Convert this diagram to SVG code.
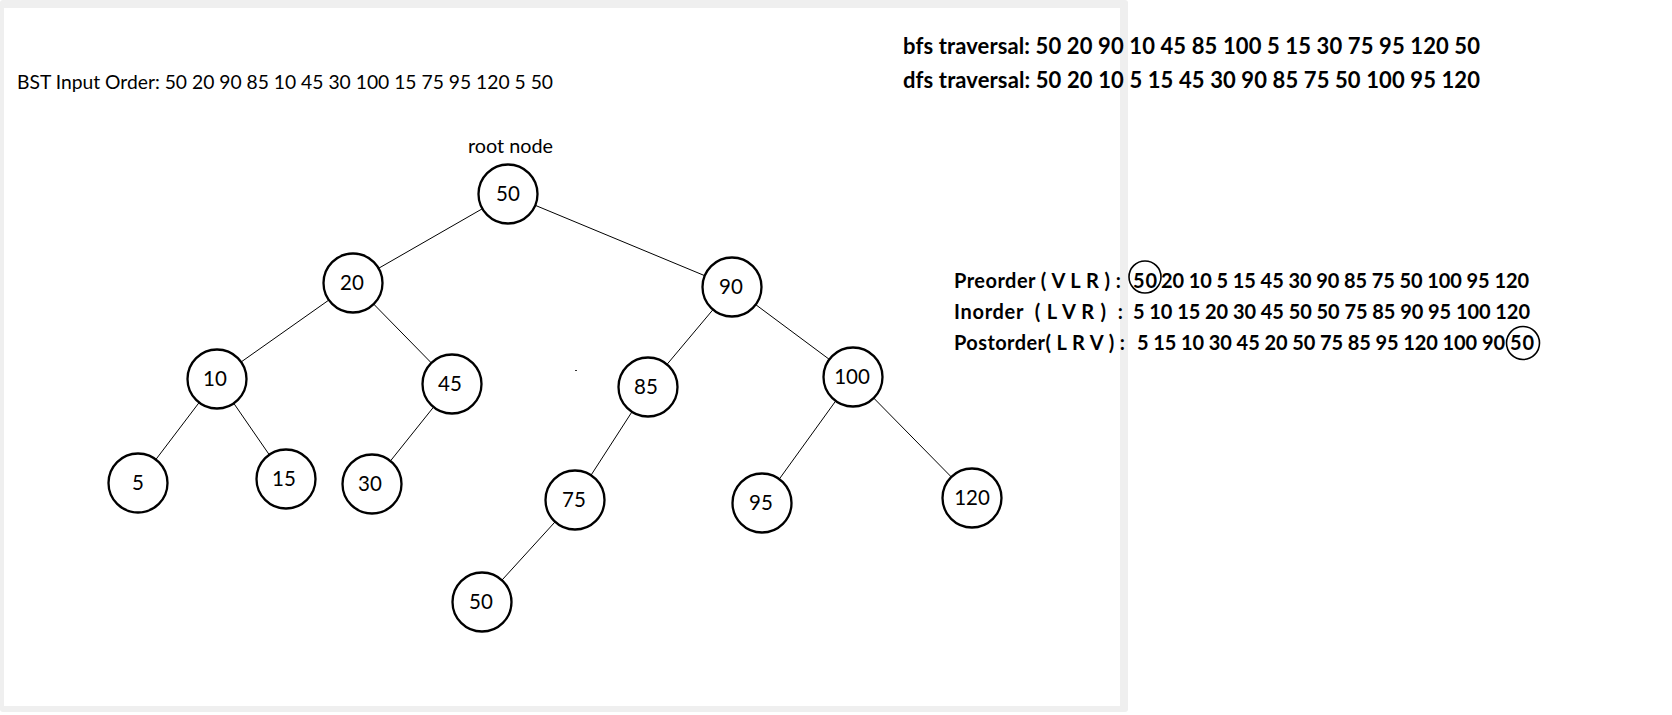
<svg xmlns="http://www.w3.org/2000/svg" width="1672" height="715" viewBox="0 0 1672 715">
<defs>
<style>
.node circle{fill:#fff;stroke:#000;stroke-width:2.3}
.node text{font-family:Lato,"Open Sans",sans-serif;font-size:20.5px;fill:#000;text-anchor:middle}
.edges line{stroke:#000;stroke-width:1}
.plain{font-family:Lato,"Open Sans",sans-serif;font-size:18.5px;fill:#000}
.bold{font-family:Lato,"Open Sans",sans-serif;font-weight:bold;fill:#000}
.ring{fill:none;stroke:#000;stroke-width:1.6}
</style>
</defs>
<rect x="0" y="0" width="1672" height="715" fill="#fff"/>
<rect x="0" y="0" width="1128" height="712" rx="3" fill="#efefef"/>
<rect x="4" y="8" width="1116" height="698" fill="#fff"/>

<text class="plain" x="17" y="89" textLength="536" lengthAdjust="spacingAndGlyphs">BST Input Order: 50 20 90 85 10 45 30 100 15 75 95 120 5 50</text>
<text class="plain" x="468" y="153" textLength="85" lengthAdjust="spacingAndGlyphs">root node</text>

<g class="edges">
<line x1="508" y1="194" x2="353" y2="283"/>
<line x1="508" y1="194" x2="732" y2="287"/>
<line x1="353" y1="283" x2="217" y2="379"/>
<line x1="353" y1="283" x2="452" y2="384"/>
<line x1="217" y1="379" x2="138" y2="483"/>
<line x1="217" y1="379" x2="286" y2="479"/>
<line x1="452" y1="384" x2="372" y2="484"/>
<line x1="732" y1="287" x2="648" y2="387"/>
<line x1="732" y1="287" x2="853" y2="377"/>
<line x1="648" y1="387" x2="575" y2="500"/>
<line x1="575" y1="500" x2="482" y2="602"/>
<line x1="853" y1="377" x2="762" y2="503"/>
<line x1="853" y1="377" x2="972" y2="498"/>
</g>

<g id="n50" class="node"><circle cx="508" cy="194" r="29.5"/><text x="508" y="201">50</text></g>
<g id="n20" class="node"><circle cx="353" cy="283" r="29.5"/><text x="352" y="290">20</text></g>
<g id="n90" class="node"><circle cx="732" cy="287" r="29.5"/><text x="731" y="294">90</text></g>
<g id="n10" class="node"><circle cx="217" cy="379" r="29.5"/><text x="215" y="386">10</text></g>
<g id="n45" class="node"><circle cx="452" cy="384" r="29.5"/><text x="450" y="391">45</text></g>
<g id="n85" class="node"><circle cx="648" cy="387" r="29.5"/><text x="646" y="394">85</text></g>
<g id="n100" class="node"><circle cx="853" cy="377" r="29.5"/><text x="852" y="384">100</text></g>
<g id="n5" class="node"><circle cx="138" cy="483" r="29.5"/><text x="138" y="490">5</text></g>
<g id="n15" class="node"><circle cx="286" cy="479" r="29.5"/><text x="284" y="486">15</text></g>
<g id="n30" class="node"><circle cx="372" cy="484" r="29.5"/><text x="370" y="491">30</text></g>
<g id="n75" class="node"><circle cx="575" cy="500" r="29.5"/><text x="574" y="507">75</text></g>
<g id="n95" class="node"><circle cx="762" cy="503" r="29.5"/><text x="761" y="510">95</text></g>
<g id="n120" class="node"><circle cx="972" cy="498" r="29.5"/><text x="972" y="505">120</text></g>
<g id="n50b" class="node"><circle cx="482" cy="602" r="29.5"/><text x="481" y="609">50</text></g>

<rect x="575" y="370" width="2" height="1" fill="#333"/>

<text class="bold" x="903" y="54" font-size="22" textLength="577">bfs traversal: 50 20 90 10 45 85 100 5 15 30 75 95 120 50</text>
<text class="bold" x="903" y="88" font-size="22" textLength="577">dfs traversal: 50 20 10 5 15 45 30 90 85 75 50 100 95 120</text>

<g font-size="20">
<text class="bold" x="954" y="288" textLength="167" xml:space="preserve">Preorder ( V L R ) :</text>
<text class="bold" x="1133" y="288" textLength="24">50</text>
<circle class="ring" cx="1145" cy="277" r="16"/>
<text class="bold" x="1161" y="288" textLength="368">20 10 5 15 45 30 90 85 75 50 100 95 120</text>

<text class="bold" x="954" y="319" textLength="169" xml:space="preserve">Inorder  ( L V R )  :</text>
<text class="bold" x="1133" y="319" textLength="397">5 10 15 20 30 45 50 50 75 85 90 95 100 120</text>

<text class="bold" x="954" y="350" textLength="171" xml:space="preserve">Postorder( L R V ) :</text>
<text class="bold" x="1137" y="350" textLength="368">5 15 10 30 45 20 50 75 85 95 120 100 90</text>
<text class="bold" x="1510" y="350" textLength="24">50</text>
<circle class="ring" cx="1523" cy="343" r="16.5"/>
</g>
</svg>
